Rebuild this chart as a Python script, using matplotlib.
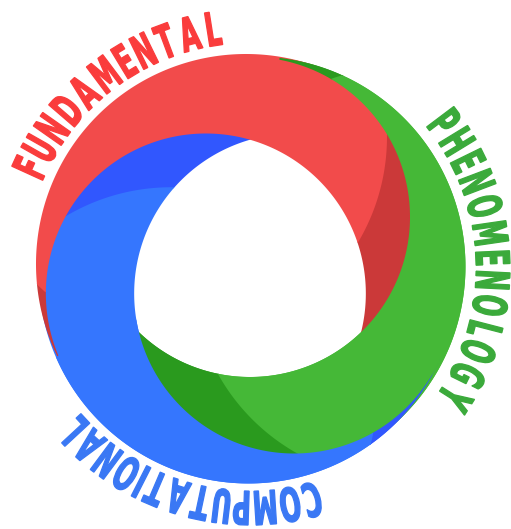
import numpy as np
import matplotlib
matplotlib.use("Agg")
import matplotlib.pyplot as plt
from matplotlib import font_manager
from matplotlib.font_manager import FontProperties
from matplotlib.textpath import TextPath
from matplotlib.transforms import Affine2D
from matplotlib.patheffects import AbstractPathEffect

W, H = 511, 529
center = (250.0, 268.0)

# three rings, each one the red ring turned about the centre
rings = ["red", "green", "blue"]
ring_turn = [0, 120, 240]
light = ["#F24B4B", "#45B837", "#3576FE"]
dark = ["#CB3939", "#2A9A1E", "#3157FE"]

# red ring geometry (offset from centre, angle in degrees, radius)
inner_off, inner_ang, inner_r = 51.0, 150.0, 160.0
outer_off, outer_ang, outer_r = 5.66, 225.0, 210.0
shade_off, shade_ang, shade_r = 148.0, 242.2, 206.0

# angular sectors where each ring lies on top
red_top = (155, 278)
blue_top = (25, 155)

# words round the ring
words = ["FUNDAMENTAL", "PHENOMENOLOGY", "COMPUTATIONAL"]
word_from = [204.5, 323.0, 75.0]    # angle of first letter
word_to = [261.0, 392.4, 137.2]     # angle of last letter
word_r = [242.0, 243.0, 240.0]
word_colors = ["#FA3C3C", "#3BAA3B", "#3A78F4"]
cap_px = 34.0


def at(off, ang):
    a = np.radians(ang)
    return center[0] + off * np.cos(a), center[1] + off * np.sin(a)


xx, yy = np.meshgrid(np.arange(0, W + 0.5, 0.5), np.arange(0, H + 0.5, 0.5))


def disc(c, r):
    return np.hypot(xx - c[0], yy - c[1]) - r


def sector(a0, a1, grow=0.0):
    u0, u1 = np.radians(a0), np.radians(a1)
    vx, vy = xx - center[0], yy - center[1]
    c0 = np.cos(u0) * vy - np.sin(u0) * vx
    c1 = vx * np.sin(u1) - vy * np.cos(u1)
    return np.maximum(-c0, -c1) - grow


body, shade = [], []
for t in ring_turn:
    outer = disc(at(outer_off, outer_ang + t), outer_r)
    inner = disc(at(inner_off, inner_ang + t), inner_r)
    body.append(np.maximum(outer, -inner))
    shade.append(disc(at(shade_off, shade_ang + t), shade_r))

fig = plt.figure(figsize=(W / 100, H / 100), dpi=100)
ax = fig.add_axes([0, 0, 1, 1])
ax.set_xlim(0, W)
ax.set_ylim(H, 0)
ax.axis("off")


def paint(region, i):
    # dark part reaches 1 px under the light part, so neither edge shows a seam
    ax.contourf(xx, yy, np.maximum(region, -shade[i] - 1.0), levels=[-1e9, 0],
                colors=[dark[i]], antialiased=True)
    ax.contourf(xx, yy, np.maximum(region, shade[i]), levels=[-1e9, 0],
                colors=[light[i]], antialiased=True)


# base layers, then the parts where green and blue lie on top
paint(body[1], 1)
paint(body[2], 2)
paint(body[0], 0)
paint(np.maximum(body[1], -sector(*red_top)), 1)
paint(np.maximum(body[2], sector(*blue_top, grow=1.5)), 2)


class Narrow(AbstractPathEffect):
    """Squeeze each glyph sideways and thicken it a little."""

    def __init__(self, sx, lw):
        super().__init__()
        self.sx = sx
        self.lw = lw

    def draw_path(self, renderer, gc, tpath, affine, rgbFace=None):
        ext = tpath.get_extents()
        cx = 0.5 * (ext.x0 + ext.x1)
        t = Affine2D().translate(-cx, 0).scale(self.sx, 1).translate(cx, 0) + affine
        gc0 = renderer.new_gc()
        gc0.copy_properties(gc)
        gc0.set_linewidth(self.lw)
        gc0.set_foreground(rgbFace)
        gc0.set_joinstyle("miter")
        renderer.draw_path(gc0, tpath, t, rgbFace)
        gc0.restore()


def pick_font():
    for fam in ["Liberation Sans Narrow", "DejaVu Sans Condensed", "DejaVu Sans"]:
        try:
            font_manager.findfont(FontProperties(family=fam, weight="bold"),
                                  fallback_to_default=False)
            return fam
        except Exception:
            pass
    return "DejaVu Sans"


fam = pick_font()
sx = {"Liberation Sans Narrow": 0.72, "DejaVu Sans Condensed": 0.62}.get(fam, 0.54)
fp = FontProperties(family=fam, weight="bold")
unit_cap = TextPath((0, 0), "H", size=100, prop=fp).get_extents().height / 100
fs_px = cap_px / unit_cap
fs_pt = fs_px * 72 / 100

for word, a0, a1, r, col in zip(words, word_from, word_to, word_r, word_colors):
    widths = [TextPath((0, 0), ch, size=fs_px, prop=fp).get_extents().width * sx for ch in word]
    span = r * np.radians(a1 - a0)
    base = sum(0.5 * (widths[k] + widths[k + 1]) for k in range(len(word) - 1))
    gap = (span - base) / (len(word) - 1)
    s = 0.0
    rb = r - cap_px / 2
    for k, ch in enumerate(word):
        if k > 0:
            s += 0.5 * (widths[k - 1] + widths[k]) + gap
        ang = a0 + np.degrees(s / r)
        x, y = at(rb, ang)
        ax.text(x, y, ch, color=col, fontproperties=fp, fontsize=fs_pt,
                rotation=-ang - 90, rotation_mode="anchor", ha="center", va="baseline",
                path_effects=[Narrow(sx, 0.9)])

fig.savefig("out.png", dpi=100, facecolor="white")
